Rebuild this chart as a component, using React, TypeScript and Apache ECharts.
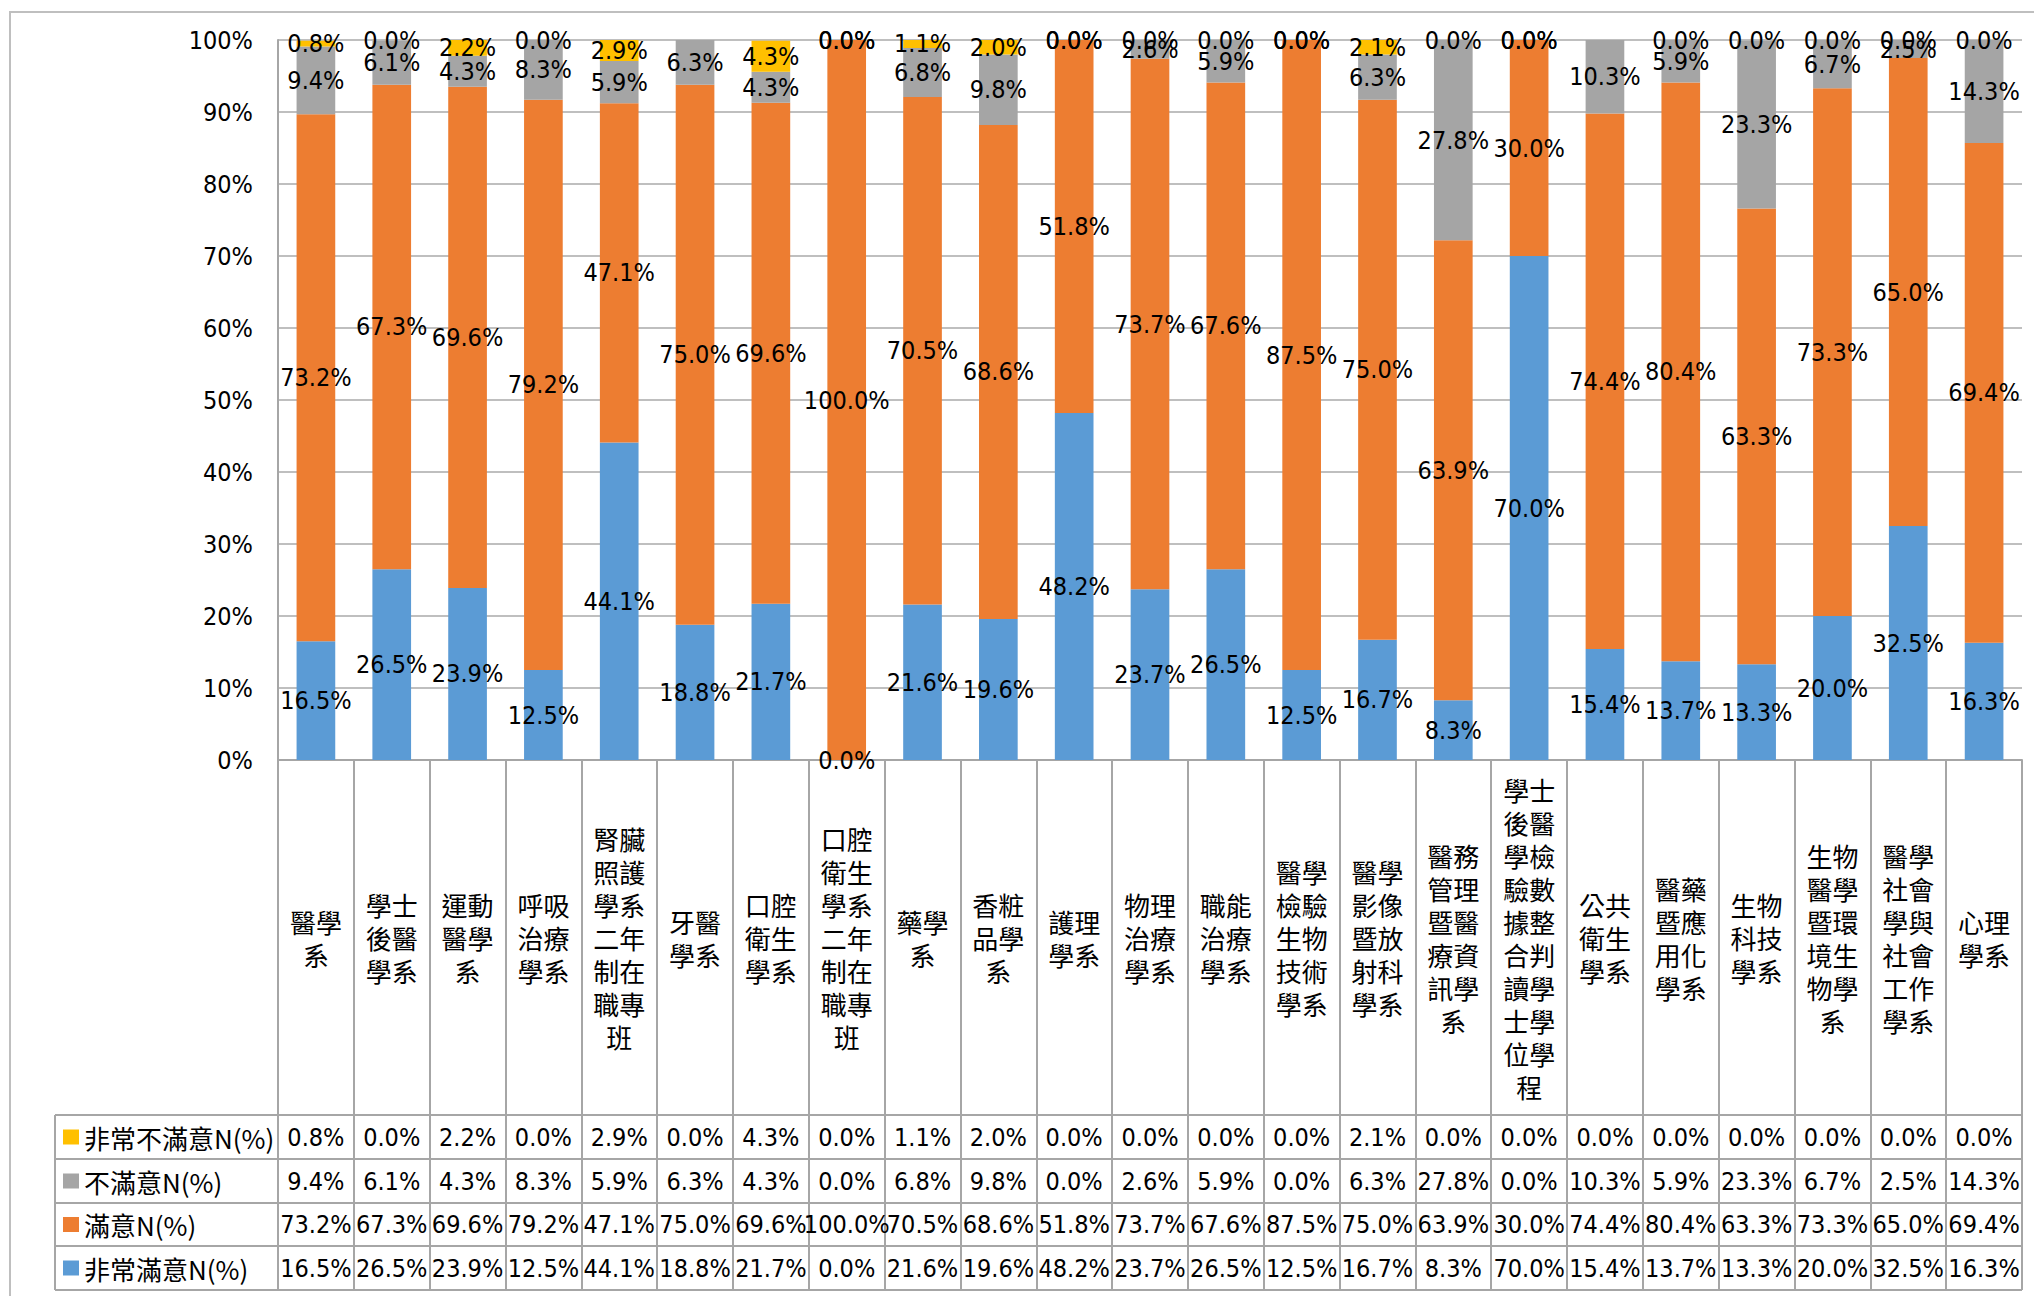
import React, { useEffect, useRef } from "react";
import * as echarts from "echarts";

const categories = [
  "醫學系", "學士後醫學系", "運動醫學系", "呼吸治療學系", "腎臟照護學系二年制在職專班",
  "牙醫學系", "口腔衛生學系", "口腔衛生學系二年制在職專班", "藥學系", "香粧品學系",
  "護理學系", "物理治療學系", "職能治療學系", "醫學檢驗生物技術學系", "醫學影像暨放射科學系",
  "醫務管理暨醫療資訊學系", "學士後醫學檢驗數據整合判讀學士學位學程", "公共衛生學系",
  "醫藥暨應用化學系", "生物科技學系", "生物醫學暨環境生物學系", "醫學社會學與社會工作學系", "心理學系",
];

const seriesNames = ["非常滿意N(%)", "滿意N(%)", "不滿意N(%)", "非常不滿意N(%)"];

const verySatisfied = [16.5, 26.5, 23.9, 12.5, 44.1, 18.8, 21.7, 0.0, 21.6, 19.6, 48.2, 23.7, 26.5, 12.5, 16.7, 8.3, 70.0, 15.4, 13.7, 13.3, 20.0, 32.5, 16.3];
const satisfied = [73.2, 67.3, 69.6, 79.2, 47.1, 75.0, 69.6, 100.0, 70.5, 68.6, 51.8, 73.7, 67.6, 87.5, 75.0, 63.9, 30.0, 74.4, 80.4, 63.3, 73.3, 65.0, 69.4];
const unsatisfied = [9.4, 6.1, 4.3, 8.3, 5.9, 6.3, 4.3, 0.0, 6.8, 9.8, 0.0, 2.6, 5.9, 0.0, 6.3, 27.8, 0.0, 10.3, 5.9, 23.3, 6.7, 2.5, 14.3];
const veryUnsatisfied = [0.8, 0.0, 2.2, 0.0, 2.9, 0.0, 4.3, 0.0, 1.1, 2.0, 0.0, 0.0, 0.0, 0.0, 2.1, 0.0, 0.0, 0.0, 0.0, 0.0, 0.0, 0.0, 0.0];
// columns where the reference shows no label for the top (非常不滿意) segment
const hiddenTopLabels = [5, 17];

const yTicks = { min: 0, max: 100, interval: 10 };

const colors = ["#5B9BD5", "#ED7D31", "#A5A5A5", "#FFC000"];

const NUM_FONT = "'Liberation Sans Narrow', 'DejaVu Sans Condensed', 'Liberation Sans', sans-serif";
const CJK_FONT = "'Noto Sans CJK TC', 'Noto Sans CJK SC', sans-serif";
const LINE = "#A6A6A6";
const NUM_SIZE = 25;

const fmt = (v: number) => v.toFixed(1) + "%";
const split2 = (s: string) => (s.match(/.{1,2}/g) || []).join("\n");

export default function App() {
  const ref = useRef<HTMLDivElement>(null);
  useEffect(() => {
    if (!ref.current) return;
    const chart = echarts.init(ref.current, undefined, { renderer: "svg" });

    const gridLeft = 278;
    const gridRight = 2022;
    const gridTop = 40;
    const gridBottom = 760;
    const rowTops = [1115, 1159, 1203, 1246];
    const tableBottom = 1290;

    // table rows top to bottom: 非常不滿意, 不滿意, 滿意, 非常滿意
    const tableRows = [
      { name: seriesNames[3], values: veryUnsatisfied },
      { name: seriesNames[2], values: unsatisfied },
      { name: seriesNames[1], values: satisfied },
      { name: seriesNames[0], values: verySatisfied },
    ];

    const seriesData = [verySatisfied, satisfied, unsatisfied, veryUnsatisfied];

    const rowAxes = tableRows.map((row, i) => ({
      type: "category",
      gridIndex: 0,
      position: "bottom",
      offset: rowTops[i] - gridBottom,
      data: categories,
      axisLine: { show: true, lineStyle: { color: LINE, width: 2 } },
      axisTick: { show: false },
      splitLine: { show: false },
      axisLabel: {
        interval: 0,
        margin: (i < 3 ? rowTops[i + 1] - rowTops[i] : tableBottom - rowTops[i]) / 2,
        verticalAlign: "middle",
        fontSize: NUM_SIZE,
        fontFamily: NUM_FONT,
        color: "#000",
        formatter: (_v: string, idx: number) => fmt(row.values[idx]),
      },
    }));

    const graphics: any[] = [];
    // legend column borders
    [...rowTops, tableBottom].forEach((y) => {
      graphics.push({
        type: "line",
        shape: { x1: 55, y1: y, x2: gridLeft, y2: y },
        style: { stroke: LINE, lineWidth: 2 },
      });
    });
    graphics.push({
      type: "line",
      shape: { x1: gridLeft, y1: tableBottom, x2: gridRight, y2: tableBottom },
      style: { stroke: LINE, lineWidth: 2 },
    });
    graphics.push({
      type: "line",
      shape: { x1: 55, y1: rowTops[0], x2: 55, y2: tableBottom },
      style: { stroke: LINE, lineWidth: 2 },
    });
    // outer chart border
    graphics.push({
      type: "rect",
      shape: { x: 10, y: 12, width: 2200, height: 1500 },
      style: { fill: "none", stroke: "#BFBFBF", lineWidth: 2 },
      silent: true,
    });

    const option: any = {
      animation: false,
      backgroundColor: "#fff",
      grid: {
        left: gridLeft,
        right: 2034 - gridRight,
        top: gridTop,
        bottom: 1296 - gridBottom,
        containLabel: false,
      },
      legend: tableRows.map((row, i) => ({
        data: [row.name],
        left: 63,
        top: rowTops[i] + ((i < 3 ? rowTops[i + 1] : tableBottom) - rowTops[i]) / 2 - 15,
        padding: 0,
        itemWidth: 16,
        itemHeight: 15,
        icon: "rect",
        selectedMode: false,
        textStyle: { fontSize: 26, lineHeight: 30, fontFamily: CJK_FONT, color: "#000" },
      })),
      xAxis: [
        {
          type: "category",
          gridIndex: 0,
          position: "bottom",
          data: categories,
          axisLine: { show: true, lineStyle: { color: LINE, width: 2 } },
          axisTick: {
            show: true,
            interval: 0,
            length: tableBottom - gridBottom,
            lineStyle: { color: LINE, width: 2 },
          },
          splitLine: { show: false },
          axisLabel: {
            interval: 0,
            margin: (rowTops[0] - gridBottom) / 2,
            verticalAlign: "middle",
            fontSize: 26,
            lineHeight: 33,
            fontFamily: CJK_FONT,
            color: "#000",
            formatter: (v: string) => split2(v),
          },
        },
        ...rowAxes,
      ],
      yAxis: {
        type: "value",
        min: yTicks.min,
        max: yTicks.max,
        interval: yTicks.interval,
        axisLine: { show: true, lineStyle: { color: LINE, width: 2 } },
        axisTick: { show: false },
        splitLine: { show: true, lineStyle: { color: "#BFBFBF", width: 2 } },
        axisLabel: {
          formatter: "{value}%",
          fontSize: NUM_SIZE,
          fontFamily: NUM_FONT,
          color: "#000",
          margin: 25,
        },
      },
      graphic: graphics,
      series: seriesNames.map((name, si) => ({
        name,
        type: "bar",
        stack: "total",
        xAxisIndex: 0,
        yAxisIndex: 0,
        barWidth: "51%",
        itemStyle: { color: colors[si] },
        data: seriesData[si],
        label: {
          show: true,
          position: "inside",
          fontSize: NUM_SIZE,
          fontFamily: NUM_FONT,
          color: "#000",
          formatter: (p: any) =>
            si === 3 && hiddenTopLabels.includes(p.dataIndex) ? "" : fmt(p.value),
        },
        labelLayout: { hideOverlap: false },
      })),
    };

    chart.setOption(option);
    return () => chart.dispose();
  }, []);

  return (
    <div
      ref={ref}
      style={{ position: "fixed", left: 0, top: 0, width: 2034, height: 1296, background: "#fff" }}
    />
  );
}
